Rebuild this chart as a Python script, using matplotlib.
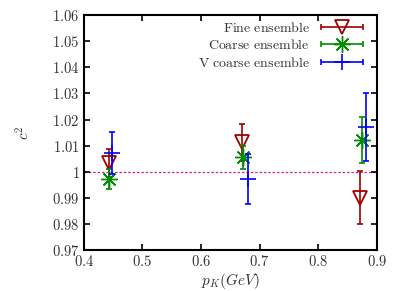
import numpy as np
import matplotlib
matplotlib.use("Agg")
import matplotlib.pyplot as plt
from matplotlib.lines import Line2D
from matplotlib.collections import LineCollection
from matplotlib.container import ErrorbarContainer
from matplotlib.legend_handler import HandlerErrorbar

plt.rcParams['mathtext.fontset'] = 'cm'
plt.rcParams['font.family'] = 'serif'
plt.rcParams['font.serif'] = ['DejaVu Serif']

# data
fine_p = [0.443, 0.670, 0.872]
fine_c2 = [1.0034, 1.0112, 0.9901]
fine_err = [0.0053, 0.0070, 0.0102]

coarse_p = [0.443, 0.671, 0.874]
coarse_c2 = [0.9972, 1.0055, 1.0122]
coarse_err = [0.0040, 0.0045, 0.0088]

vcoarse_p = [0.448, 0.680, 0.882]
vcoarse_c2 = [1.0072, 0.9972, 1.0172]
vcoarse_err = [0.0081, 0.0094, 0.0131]

xticks = [0.4, 0.5, 0.6, 0.7, 0.8, 0.9]
xlabels = ['0.4', '0.5', '0.6', '0.7', '0.8', '0.9']
yticks = [0.97, 0.98, 0.99, 1.0, 1.01, 1.02, 1.03, 1.04, 1.05, 1.06]
ylabels = ['0.97', '0.98', '0.99', '1', '1.01', '1.02', '1.03', '1.04', '1.05', '1.06']

red = '#a00000'
green = '#008c00'
blue = '#0000ff'
txt = '#333333'

fig = plt.figure(figsize=(4.15, 2.91), dpi=100)
ax = fig.add_axes([0.202, 0.141, 0.706, 0.807])

ax.axhline(1.0, color='#d0208f', ls=(0, (2, 1.5)), lw=0.9, zorder=1)

ax.errorbar(fine_p, fine_c2, yerr=fine_err, fmt='none', ecolor=red, elinewidth=1.2,
            capsize=2, capthick=1.2)
ax.plot(fine_p, fine_c2, 'v', ms=10, mfc='none', mec=red, mew=1.3)
ax.errorbar(coarse_p, coarse_c2, yerr=coarse_err, fmt='none', ecolor=green, elinewidth=1.2,
            capsize=2, capthick=1.2)
ax.plot(coarse_p, coarse_c2, marker=(8, 2, 0), ls='none', ms=12, mec=green, mew=1.0)
ax.errorbar(vcoarse_p, vcoarse_c2, yerr=vcoarse_err, fmt='none', ecolor=blue, elinewidth=1.2,
            capsize=2, capthick=1.2)
ax.plot(vcoarse_p, vcoarse_c2, '+', ms=11, mec=blue, mew=1.2)

ax.set_xlim(0.4, 0.9)
ax.set_ylim(0.97, 1.06)
ax.set_xticks(xticks)
ax.set_xticklabels(['$\\mathrm{%s}$' % s for s in xlabels])
ax.set_yticks(yticks)
ax.set_yticklabels(['$\\mathrm{%s}$' % s for s in ylabels])
ax.tick_params(direction='in', top=True, right=True, length=4, width=1.2, labelsize=10.5, pad=3,
               colors='black', labelcolor=txt)
for s in ax.spines.values():
    s.set_linewidth(1.5)

ax.set_xlabel('$p_K(GeV)$', fontsize=11, labelpad=1, color=txt)
ax.set_ylabel('$c^2$', fontsize=11, labelpad=14, color=txt)


def proxy(color, marker, ms, mfc, mew):
    pl = Line2D([], [], ls='none', marker=marker, ms=ms, mfc=mfc, mec=color, mew=mew)
    cap = Line2D([], [], ls='none', marker='|', ms=4, mec=color, mew=1.2)
    bar = LineCollection([], colors=color, linewidths=1.2)
    return ErrorbarContainer((pl, (cap,), (bar,)), has_xerr=True, has_yerr=False)


handles = [proxy(red, 'v', 10, 'none', 1.3),
           proxy(green, (8, 2, 0), 12, green, 1.0),
           proxy(blue, '+', 11, 'none', 1.2)]
labels = ['$\\mathrm{Fine\\ ensemble}$', '$\\mathrm{Coarse\\ ensemble}$',
          '$\\mathrm{V\\ coarse\\ ensemble}$']
leg = ax.legend(handles, labels, loc='upper right', frameon=False, markerfirst=False,
                fontsize=10, handlelength=3.2, handletextpad=0.7, labelspacing=0.25,
                borderaxespad=0.2, borderpad=0.2, bbox_to_anchor=(0.975, 1.0),
                handler_map={ErrorbarContainer: HandlerErrorbar(xerr_size=1.5)})
for t in leg.get_texts():
    t.set_color(txt)

fig.savefig('out.png', dpi=100)
